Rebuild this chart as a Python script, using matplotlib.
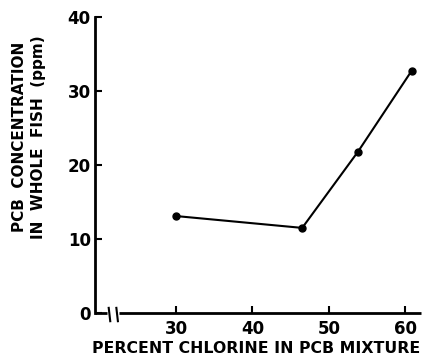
import matplotlib.pyplot as plt

# percent chlorine in the PCB mixture vs. concentration found in whole fish
chlorine = [30, 46.5, 53.8, 60.8]
conc_ppm = [13.1, 11.5, 21.8, 32.7]

x_ticks = [30, 40, 50, 60]
y_ticks = [0, 10, 20, 30, 40]

plt.rcParams['font.family'] = 'DejaVu Sans'
plt.rcParams['font.weight'] = 'bold'
plt.rcParams['axes.labelweight'] = 'bold'

fig = plt.figure(figsize=(4.22, 3.59), dpi=100)
ax = fig.add_axes([0.225, 0.128, 0.772, 0.825])

ax.plot(chlorine, conc_ppm, color='black', linewidth=1.5,
        marker='o', markersize=5, clip_on=False)

ax.set_xlim(19.4, 62)
ax.set_ylim(0, 40)
ax.set_xticks(x_ticks)
ax.set_yticks(y_ticks)
ax.tick_params(direction='in', length=5, width=1.5, labelsize=12)
ax.tick_params(axis='x', pad=5)
ax.tick_params(axis='y', pad=3)

for side in ['top', 'right', 'bottom']:
    ax.spines[side].set_visible(False)
ax.spines['left'].set_linewidth(2)

# broken x axis: short stub, two break marks, then the rest of the axis
axis_kw = dict(color='black', linewidth=2, clip_on=False, solid_capstyle='butt')
ax.plot([19.4, 21.0], [0, 0], **axis_kw)
ax.plot([22.6, 62], [0, 0], **axis_kw)
for bx in [21.3, 22.3]:
    ax.plot([bx - 0.1, bx + 0.1], [0.7, -1.1], color='black', linewidth=1.5, clip_on=False)

ax.set_xlabel('PERCENT CHLORINE IN PCB MIXTURE', fontsize=11.3)
ax.xaxis.set_label_coords(0.495, -0.095)
ax.set_ylabel('PCB  CONCENTRATION\nIN  WHOLE  FISH  (ppm)', fontsize=11,
              linespacing=1.3)
ax.yaxis.set_label_coords(-0.15, 0.595)

fig.savefig('out.png', dpi=100)
